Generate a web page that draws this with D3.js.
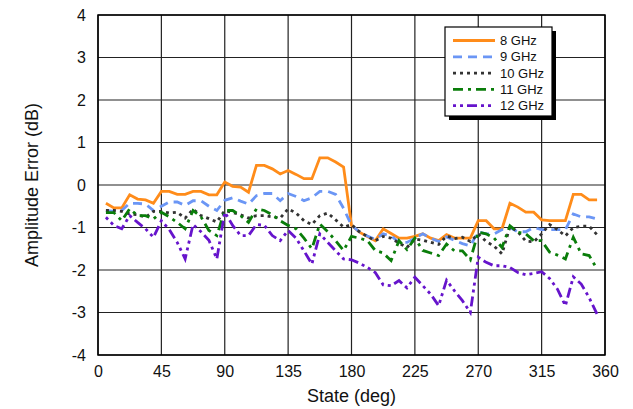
<!DOCTYPE html>
<html>
<head>
<meta charset="utf-8">
<script src="https://cdn.jsdelivr.net/npm/d3@7"></script>
<style>
  body { margin: 0; background: #fff; }
  svg { display: block; font-family: "Liberation Sans", Arial, sans-serif; }
</style>
</head>
<body>
<svg id="chart" width="633" height="409"></svg>
<script>
// states are 5.625 deg steps (k = 1..63)
const states = d3.range(1, 64).map(k => k * 5.625);

const ghz8 = [-0.43,-0.54,-0.54,-0.23,-0.33,-0.35,-0.43,-0.15,-0.15,-0.22,-0.22,-0.15,-0.15,-0.23,-0.23,
  0.07,-0.03,-0.05,-0.17,0.46,0.46,0.38,0.26,0.34,0.25,0.15,0.15,0.64,0.64,0.54,0.42,
  -0.95,-1.11,-1.21,-1.31,-1.03,-1.14,-1.25,-1.25,-1.21,-1.15,-1.25,-1.31,-1.17,-1.25,-1.25,-1.25,
  -0.84,-0.84,-1.03,-1.03,-0.43,-0.52,-0.64,-0.64,-0.82,-0.84,-0.84,-0.84,-0.22,-0.22,-0.35,-0.35];

const ghz9 = [-0.6,-0.62,-0.6,-0.43,-0.43,-0.45,-0.6,-0.5,-0.4,-0.4,-0.48,-0.37,-0.37,-0.5,-0.6,
  -0.36,-0.3,-0.38,-0.45,-0.25,-0.2,-0.2,-0.37,-0.2,-0.27,-0.37,-0.3,-0.15,-0.15,-0.22,-0.55,
  -0.95,-1.1,-1.2,-1.28,-1.15,-1.2,-1.35,-1.35,-1.25,-1.15,-1.25,-1.33,-1.22,-1.3,-1.38,-1.43,
  -1.1,-1.15,-1.15,-1.05,-1.0,-1.1,-1.1,-1.0,-1.05,-1.05,-1.05,-1.05,-0.68,-0.75,-0.75,-0.8];

const ghz10 = [-0.6,-0.6,-0.62,-0.68,-0.7,-0.76,-0.62,-0.62,-0.66,-0.64,-0.78,-0.57,-0.72,-0.79,-0.87,
  -0.6,-0.65,-0.7,-0.78,-0.72,-0.72,-0.75,-0.78,-0.56,-0.66,-0.84,-0.93,-0.72,-0.66,-0.82,-0.99,
  -0.93,-1.1,-1.21,-1.31,-1.21,-1.25,-1.37,-1.47,-1.27,-1.3,-1.35,-1.4,-1.2,-1.26,-1.23,-1.33,
  -1.15,-1.33,-1.44,-1.62,-0.98,-1.1,-1.32,-1.34,-1.15,-0.93,-1.05,-1.2,-1.0,-0.97,-0.97,-1.17];

const ghz11 = [-0.65,-0.65,-0.84,-0.56,-0.72,-0.72,-0.8,-0.64,-0.75,-0.88,-1.03,-0.6,-0.75,-1.07,-1.19,
  -0.6,-0.6,-0.72,-0.88,-0.56,-0.6,-0.7,-0.84,-0.95,-1.03,-1.25,-1.5,-0.92,-1.1,-1.31,-1.54,
  -1.21,-1.25,-1.31,-1.54,-1.6,-1.78,-1.31,-1.52,-1.25,-1.54,-1.6,-1.66,-1.39,-1.55,-1.55,-1.76,
  -1.11,-1.15,-1.25,-1.47,-0.96,-1.11,-1.15,-1.31,-1.31,-1.58,-1.65,-1.74,-1.23,-1.62,-1.66,-1.98];

const ghz12 = [-0.76,-0.95,-1.03,-0.72,-0.88,-1.03,-1.23,-0.84,-1.05,-1.35,-1.74,-0.93,-1.1,-1.3,-1.74,
  -0.64,-0.95,-1.19,-1.19,-0.93,-0.95,-1.19,-1.31,-1.07,-1.25,-1.55,-1.86,-1.15,-1.35,-1.55,-1.74,
  -1.76,-1.84,-1.94,-2.06,-2.35,-2.37,-2.25,-2.42,-2.17,-2.37,-2.57,-2.84,-2.24,-2.49,-2.72,-3.0,
  -1.7,-1.82,-1.9,-1.9,-1.94,-2.06,-2.11,-2.08,-2.04,-2.2,-2.45,-2.84,-2.16,-2.33,-2.65,-3.04];

const xTicks = [0, 45, 90, 135, 180, 225, 270, 315, 360];
const yTicks = [-4, -3, -2, -1, 0, 1, 2, 3, 4];

const series = [
  { name: "8 GHz",  values: ghz8,  color: "#ff8c1a", dash: null },
  { name: "9 GHz",  values: ghz9,  color: "#6b96f5", dash: "9,6" },
  { name: "10 GHz", values: ghz10, color: "#333333", dash: "3,4" },
  { name: "11 GHz", values: ghz11, color: "#0a7d0a", dash: "10,5,3,5" },
  { name: "12 GHz", values: ghz12, color: "#6614cc", dash: "3,4,3,4,10,4" }
];

const svg = d3.select("#chart");
const margin = {top: 15, right: 28, bottom: 54, left: 98};
const width = 633 - margin.left - margin.right;
const height = 409 - margin.top - margin.bottom;

const x = d3.scaleLinear().domain([0, 360]).range([0, width]);
const y = d3.scaleLinear().domain([-4, 4]).range([height, 0]);

const g = svg.append("g").attr("transform", "translate(" + margin.left + "," + margin.top + ")");

// grid
g.append("g")
  .selectAll("line")
  .data(xTicks)
  .enter().append("line")
  .attr("x1", d => x(d)).attr("x2", d => x(d))
  .attr("y1", 0).attr("y2", height)
  .attr("stroke", "#222").attr("stroke-width", 1.2);

g.append("g")
  .selectAll("line")
  .data(yTicks)
  .enter().append("line")
  .attr("x1", 0).attr("x2", width)
  .attr("y1", d => y(d)).attr("y2", d => y(d))
  .attr("stroke", "#222").attr("stroke-width", 1.2);

// axes (plain hyphen minus like the original)
const fmt = d => String(d);

g.append("g")
  .attr("transform", "translate(0," + height + ")")
  .call(d3.axisBottom(x).tickValues(xTicks).tickFormat(fmt).tickSize(0).tickPadding(11))
  .call(a => a.select(".domain").remove())
  .selectAll("text")
  .attr("font-size", 16).attr("fill", "#111")
  .attr("font-family", "Liberation Sans, Arial, sans-serif");

g.append("g")
  .call(d3.axisLeft(y).tickValues(yTicks).tickFormat(fmt).tickSize(0).tickPadding(12))
  .call(a => a.select(".domain").remove())
  .selectAll("text")
  .attr("font-size", 16).attr("fill", "#111")
  .attr("font-family", "Liberation Sans, Arial, sans-serif");

g.append("rect")
  .attr("width", width).attr("height", height)
  .attr("fill", "none").attr("stroke", "#000").attr("stroke-width", 1.5);

// lines
const line = d3.line()
  .x((d, i) => x(states[i]))
  .y(d => y(d));

g.append("g")
  .selectAll("path")
  .data(series)
  .enter().append("path")
  .attr("d", d => line(d.values))
  .attr("fill", "none")
  .attr("stroke", d => d.color)
  .attr("stroke-width", 2.8)
  .attr("stroke-dasharray", d => d.dash);

// axis titles
svg.append("text")
  .attr("x", margin.left + width / 2)
  .attr("y", 402)
  .attr("text-anchor", "middle")
  .attr("font-size", 18)
  .attr("fill", "#111")
  .text("State (deg)");

svg.append("text")
  .attr("transform", "translate(38," + (margin.top + height / 2) + ") rotate(-90)")
  .attr("text-anchor", "middle")
  .attr("font-size", 18)
  .attr("fill", "#111")
  .text("Amplitude Error (dB)");

// legend with drop shadow
const legend = svg.append("g").attr("transform", "translate(445,27)");
legend.append("rect")
  .attr("x", 4).attr("y", 4)
  .attr("width", 107).attr("height", 89)
  .attr("fill", "#000");
legend.append("rect")
  .attr("width", 107).attr("height", 89)
  .attr("fill", "#fff").attr("stroke", "#000").attr("stroke-width", 1.2);

const item = legend.selectAll("g.item")
  .data(series)
  .enter().append("g")
  .attr("class", "item")
  .attr("transform", (d, i) => "translate(0," + (13.5 + i * 16.3) + ")");

item.append("line")
  .attr("x1", 8).attr("x2", 50)
  .attr("stroke", d => d.color)
  .attr("stroke-width", 2.8)
  .attr("stroke-dasharray", d => d.dash);

item.append("text")
  .attr("x", 55)
  .attr("dy", "0.35em")
  .attr("font-size", 13)
  .attr("fill", "#111")
  .text(d => d.name);
</script>
</body>
</html>
